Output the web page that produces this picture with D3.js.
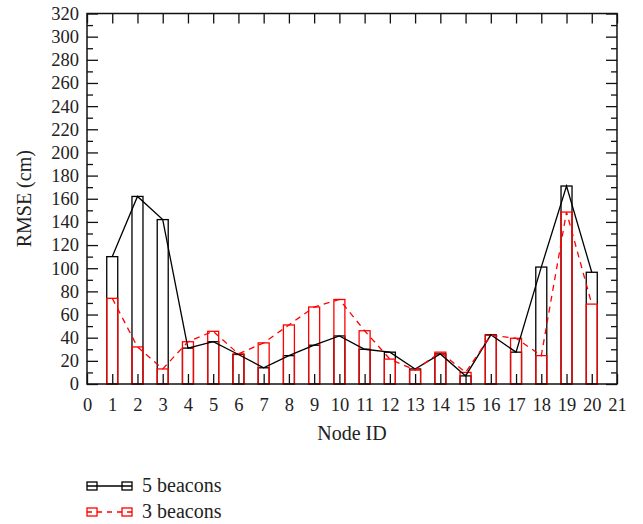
<!DOCTYPE html>
<html>
<head>
<meta charset="utf-8">
<script src="https://cdn.jsdelivr.net/npm/d3@7"></script>
<style>
  body { margin: 0; background: #fff; }
  text { font-family: "Liberation Serif", "DejaVu Serif", serif; fill: #222; }
</style>
</head>
<body>
<svg id="chart"></svg>
<script>
const nodes = d3.range(1, 21)
const rmse5 = [110, 162, 142, 31, 36.5, 25.5, 14, 24.5, 33.5, 41.5, 30, 27.5, 13, 26, 7, 42.5, 27.5, 101, 171, 96.5]
const rmse3 = [74, 32, 13, 36.5, 45.5, 26, 35.5, 51, 66.5, 73, 46, 21.5, 12, 27.5, 10, 42, 39.5, 24.5, 148.5, 69]
const yTicks = d3.range(0, 321, 20)
const xTicks = d3.range(0, 22)
const series = [
  { name: '5 beacons', values: rmse5, color: '#000', dash: null },
  { name: '3 beacons', values: rmse3, color: '#f00', dash: '6,5' }
]

const W = 643, H = 524
const margin = { top: 13.5, right: 26, bottom: 140, left: 87 }
const svg = d3.select('#chart').attr('width', W).attr('height', H)

const x = d3.scaleLinear().domain([0, 21]).range([margin.left, W - margin.right])
const y = d3.scaleLinear().domain([0, 320]).range([H - margin.bottom, margin.top])
const barW = 11

// bars then lines, for each series
series.forEach(s => {
  svg.append('g')
    .selectAll('rect')
    .data(s.values)
    .enter()
    .append('rect')
    .attr('x', (d, i) => x(nodes[i]) - barW / 2)
    .attr('y', d => y(d))
    .attr('width', barW)
    .attr('height', d => y(0) - y(d))
    .attr('fill', 'none')
    .attr('stroke', s.color)
    .attr('stroke-width', 1.3)
})
series.forEach(s => {
  const line = d3.line().x((d, i) => x(nodes[i])).y(d => y(d))
  svg.append('path')
    .datum(s.values)
    .attr('d', line)
    .attr('fill', 'none')
    .attr('stroke', s.color)
    .attr('stroke-width', 1.3)
    .attr('stroke-dasharray', s.dash)
})

// axes, ticks pointing inward
const yMinor = d3.range(10, 320, 20)
const axL = svg.append('g').attr('transform', `translate(${x(0)},0)`)
  .call(d3.axisLeft(y).tickValues(yTicks).tickSizeInner(-11).tickSizeOuter(0).tickPadding(8))
axL.selectAll('text').style('font-size', '18.5px')
svg.append('g').attr('transform', `translate(${x(0)},0)`)
  .call(d3.axisLeft(y).tickValues(yMinor).tickSizeInner(-6).tickSizeOuter(0).tickFormat(''))
svg.append('g').attr('transform', `translate(${x(21)},0)`)
  .call(d3.axisRight(y).tickValues(yTicks).tickSizeInner(-11).tickSizeOuter(0).tickFormat(''))
svg.append('g').attr('transform', `translate(${x(21)},0)`)
  .call(d3.axisRight(y).tickValues(yMinor).tickSizeInner(-6).tickSizeOuter(0).tickFormat(''))
const axB = svg.append('g').attr('transform', `translate(0,${y(0)})`)
  .call(d3.axisBottom(x).tickValues(xTicks).tickSizeInner(-10).tickSizeOuter(0).tickPadding(14))
axB.selectAll('text').style('font-size', '18.5px')
svg.append('g').attr('transform', `translate(0,${y(320)})`)
  .call(d3.axisTop(x).tickValues(xTicks).tickSizeInner(-10).tickSizeOuter(0).tickFormat(''))
svg.selectAll('.domain').remove()
svg.selectAll('.tick line').attr('stroke', '#111').attr('stroke-width', 1.3)

svg.append('rect')
  .attr('x', x(0)).attr('y', y(320))
  .attr('width', x(21) - x(0)).attr('height', y(0) - y(320))
  .attr('fill', 'none').attr('stroke', '#111').attr('stroke-width', 1.5)

svg.append('text')
  .attr('x', (x(0) + x(21)) / 2).attr('y', 440)
  .attr('text-anchor', 'middle').style('font-size', '20px')
  .text('Node ID')
svg.append('text')
  .attr('transform', `translate(31,${(y(0) + y(320)) / 2}) rotate(-90)`)
  .attr('text-anchor', 'middle').style('font-size', '20px')
  .text('RMSE (cm)')

// legend
const leg = svg.append('g')
series.forEach((s, i) => {
  const ly = 486 + i * 26
  leg.append('line')
    .attr('x1', 87).attr('x2', 132).attr('y1', ly).attr('y2', ly)
    .attr('stroke', s.color).attr('stroke-width', 1.3)
    .attr('stroke-dasharray', s.dash ? '5,5' : null)
  ;[92, 127].forEach(cx => {
    leg.append('rect')
      .attr('x', cx - 5).attr('y', ly - 4).attr('width', 10).attr('height', 8)
      .attr('fill', 'none').attr('stroke', s.color).attr('stroke-width', 1.3)
  })
  leg.append('text')
    .attr('x', 142).attr('y', ly + 6)
    .style('font-size', '20px')
    .text(s.name)
})
</script>
</body>
</html>
